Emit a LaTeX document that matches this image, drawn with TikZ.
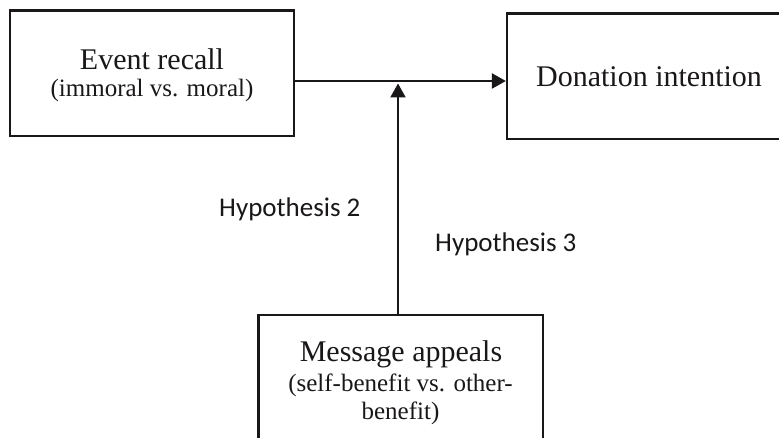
\documentclass[tikz,border=0pt]{standalone}
\usepackage{fontspec}
\setmainfont{Liberation Serif}
\newfontfamily\labelfont{Carlito}
\usetikzlibrary{arrows.meta}

\definecolor{ink}{HTML}{1A1718}

\tikzset{
  box/.style={draw=ink, line width=2.2pt, rectangle, inner sep=0pt},
  bigtxt/.style={anchor=base, inner sep=0pt, text=ink, font=\fontsize{30}{30}\selectfont},
  smalltxt/.style={anchor=base, inner sep=0pt, text=ink, font=\fontsize{25}{25}\selectfont},
  hyp/.style={anchor=base west, inner sep=0pt, text=ink, font=\labelfont\fontsize{27}{27}\selectfont},
  link/.style={draw=ink, line width=2.2pt, -{Triangle[length=14pt, width=15pt]}}
}

\begin{document}
\begin{tikzpicture}[x=1pt, y=-1pt]
  \useasboundingbox (0,0) rectangle (779,438);

  % boxes
  \node[box, minimum width=284pt, minimum height=125.5pt] (recall) at (152,73.25) {};
  \node[box, minimum width=284pt, minimum height=125.5pt] (donation) at (649,76.25) {};
  \node[box, minimum width=284.5pt, minimum height=150pt] (appeals) at (400.75,390) {};

  % box texts
  \node[bigtxt] (recallA) at (152,70) {Event recall};
  \node[smalltxt] (recallB) at (152,97) {(immoral vs. moral)};
  \node[bigtxt] (donationA) at (649,86.5) {Donation intention};
  \node[bigtxt] (appealsA) at (401,361) {Message appeals};
  \node[smalltxt] (appealsB) at (400.5,391) {(self-benefit vs. other-};
  \node[smalltxt] (appealsC) at (400.5,419) {benefit)};

  % hypothesis labels
  \node[hyp] (h2) at (219,217) {Hypothesis 2};
  \node[hyp] (h3) at (435,252) {Hypothesis 3};

  % connectors
  \coordinate (path) at (0,81);
  \coordinate (hit) at (398,83.5);
  \draw[link] (recall.east |- path) -- (donation.west |- path);
  \draw[link] (appeals.north -| hit) -- (hit);
\end{tikzpicture}
\end{document}
